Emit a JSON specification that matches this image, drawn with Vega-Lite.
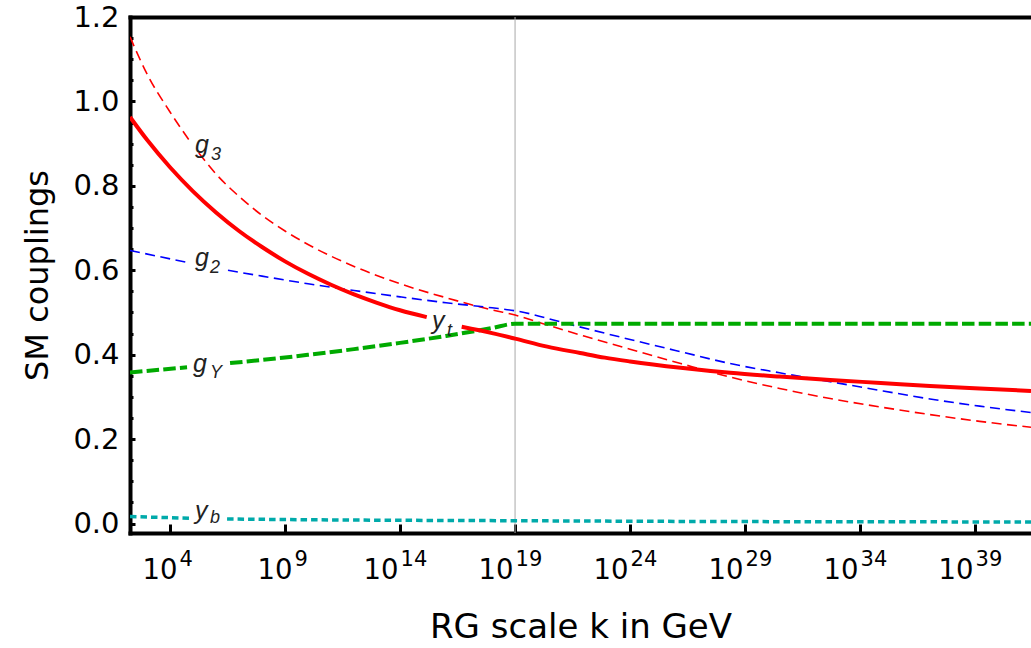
{
  "$schema": "https://vega.github.io/schema/vega-lite/v6.json",
  "width": 901,
  "height": 516,
  "autosize": "none",
  "padding": {"left": 130, "top": 17, "right": 0, "bottom": 115},
  "background": "white",
  "config": {"view": {"stroke": null}},
  "datasets": {
    "curves": [
      {"curve": "g3", "seg": "g3a", "logk": 2.26, "value": 1.153},
      {"curve": "g3", "seg": "g3a", "logk": 3, "value": 1.065},
      {"curve": "g3", "seg": "g3a", "logk": 4, "value": 0.975},
      {"curve": "g3", "seg": "g3a", "logk": 4.9, "value": 0.903},
      {"curve": "g3", "seg": "g3b", "logk": 5.25, "value": 0.878},
      {"curve": "g3", "seg": "g3b", "logk": 6, "value": 0.828},
      {"curve": "g3", "seg": "g3b", "logk": 7, "value": 0.775},
      {"curve": "g3", "seg": "g3b", "logk": 8, "value": 0.730},
      {"curve": "g3", "seg": "g3b", "logk": 9, "value": 0.693},
      {"curve": "g3", "seg": "g3b", "logk": 10, "value": 0.661},
      {"curve": "g3", "seg": "g3b", "logk": 12, "value": 0.609},
      {"curve": "g3", "seg": "g3b", "logk": 14, "value": 0.568},
      {"curve": "g3", "seg": "g3b", "logk": 16, "value": 0.535},
      {"curve": "g3", "seg": "g3b", "logk": 18, "value": 0.506},
      {"curve": "g3", "seg": "g3b", "logk": 19, "value": 0.494},
      {"curve": "g3", "seg": "g3b", "logk": 20, "value": 0.477},
      {"curve": "g3", "seg": "g3b", "logk": 22, "value": 0.444},
      {"curve": "g3", "seg": "g3b", "logk": 24, "value": 0.413},
      {"curve": "g3", "seg": "g3b", "logk": 26.2, "value": 0.379},
      {"curve": "g3", "seg": "g3b", "logk": 28.35, "value": 0.347},
      {"curve": "g3", "seg": "g3b", "logk": 30.5, "value": 0.320},
      {"curve": "g3", "seg": "g3b", "logk": 32.7, "value": 0.296},
      {"curve": "g3", "seg": "g3b", "logk": 35, "value": 0.275},
      {"curve": "g3", "seg": "g3b", "logk": 37.04, "value": 0.258},
      {"curve": "g3", "seg": "g3b", "logk": 39.2, "value": 0.242},
      {"curve": "g3", "seg": "g3b", "logk": 41.43, "value": 0.228},

      {"curve": "g2", "seg": "g2a", "logk": 2.26, "value": 0.647},
      {"curve": "g2", "seg": "g2a", "logk": 4.78, "value": 0.618},
      {"curve": "g2", "seg": "g2b", "logk": 6.52, "value": 0.600},
      {"curve": "g2", "seg": "g2b", "logk": 8, "value": 0.586},
      {"curve": "g2", "seg": "g2b", "logk": 10, "value": 0.568},
      {"curve": "g2", "seg": "g2b", "logk": 12, "value": 0.552},
      {"curve": "g2", "seg": "g2b", "logk": 14, "value": 0.537},
      {"curve": "g2", "seg": "g2b", "logk": 16, "value": 0.523},
      {"curve": "g2", "seg": "g2b", "logk": 18, "value": 0.511},
      {"curve": "g2", "seg": "g2b", "logk": 19, "value": 0.504},
      {"curve": "g2", "seg": "g2b", "logk": 21.5, "value": 0.470},
      {"curve": "g2", "seg": "g2b", "logk": 24, "value": 0.436},
      {"curve": "g2", "seg": "g2b", "logk": 26.2, "value": 0.407},
      {"curve": "g2", "seg": "g2b", "logk": 28.35, "value": 0.379},
      {"curve": "g2", "seg": "g2b", "logk": 30.5, "value": 0.357},
      {"curve": "g2", "seg": "g2b", "logk": 32.7, "value": 0.336},
      {"curve": "g2", "seg": "g2b", "logk": 35, "value": 0.314},
      {"curve": "g2", "seg": "g2b", "logk": 37.04, "value": 0.295},
      {"curve": "g2", "seg": "g2b", "logk": 39.2, "value": 0.278},
      {"curve": "g2", "seg": "g2b", "logk": 41.43, "value": 0.263},

      {"curve": "gY", "seg": "gYa", "logk": 2.26, "value": 0.358},
      {"curve": "gY", "seg": "gYa", "logk": 4.74, "value": 0.370},
      {"curve": "gY", "seg": "gYb", "logk": 6.61, "value": 0.380},
      {"curve": "gY", "seg": "gYb", "logk": 8.78, "value": 0.392},
      {"curve": "gY", "seg": "gYb", "logk": 10, "value": 0.3997},
      {"curve": "gY", "seg": "gYb", "logk": 12, "value": 0.4131},
      {"curve": "gY", "seg": "gYb", "logk": 14, "value": 0.4279},
      {"curve": "gY", "seg": "gYb", "logk": 16, "value": 0.4444},
      {"curve": "gY", "seg": "gYb", "logk": 18, "value": 0.4630},
      {"curve": "gY", "seg": "gYb", "logk": 19, "value": 0.4733},
      {"curve": "gY", "seg": "gYb", "logk": 24, "value": 0.4733},
      {"curve": "gY", "seg": "gYb", "logk": 41.43, "value": 0.4733},

      {"curve": "yt", "seg": "yta", "logk": 2.26, "value": 0.963},
      {"curve": "yt", "seg": "yta", "logk": 3, "value": 0.909},
      {"curve": "yt", "seg": "yta", "logk": 4, "value": 0.844},
      {"curve": "yt", "seg": "yta", "logk": 5, "value": 0.787},
      {"curve": "yt", "seg": "yta", "logk": 6, "value": 0.737},
      {"curve": "yt", "seg": "yta", "logk": 7, "value": 0.693},
      {"curve": "yt", "seg": "yta", "logk": 8, "value": 0.655},
      {"curve": "yt", "seg": "yta", "logk": 9, "value": 0.621},
      {"curve": "yt", "seg": "yta", "logk": 10, "value": 0.5915},
      {"curve": "yt", "seg": "yta", "logk": 11, "value": 0.5656},
      {"curve": "yt", "seg": "yta", "logk": 12, "value": 0.5428},
      {"curve": "yt", "seg": "yta", "logk": 13, "value": 0.5228},
      {"curve": "yt", "seg": "yta", "logk": 14, "value": 0.5052},
      {"curve": "yt", "seg": "yta", "logk": 15.16, "value": 0.489},
      {"curve": "yt", "seg": "ytb", "logk": 16.68, "value": 0.466},
      {"curve": "yt", "seg": "ytb", "logk": 18, "value": 0.451},
      {"curve": "yt", "seg": "ytb", "logk": 19, "value": 0.438},
      {"curve": "yt", "seg": "ytb", "logk": 20.4, "value": 0.419},
      {"curve": "yt", "seg": "ytb", "logk": 21.83, "value": 0.404},
      {"curve": "yt", "seg": "ytb", "logk": 22.9, "value": 0.393},
      {"curve": "yt", "seg": "ytb", "logk": 24, "value": 0.384},
      {"curve": "yt", "seg": "ytb", "logk": 26.2, "value": 0.369},
      {"curve": "yt", "seg": "ytb", "logk": 28.35, "value": 0.357},
      {"curve": "yt", "seg": "ytb", "logk": 30.5, "value": 0.348},
      {"curve": "yt", "seg": "ytb", "logk": 32.7, "value": 0.340},
      {"curve": "yt", "seg": "ytb", "logk": 34.9, "value": 0.333},
      {"curve": "yt", "seg": "ytb", "logk": 37.04, "value": 0.326},
      {"curve": "yt", "seg": "ytb", "logk": 39.2, "value": 0.320},
      {"curve": "yt", "seg": "ytb", "logk": 41.43, "value": 0.314},

      {"curve": "yb", "seg": "yba", "logk": 2.26, "value": 0.0165},
      {"curve": "yb", "seg": "yba", "logk": 4.87, "value": 0.0125},
      {"curve": "yb", "seg": "ybb", "logk": 6.48, "value": 0.0107},
      {"curve": "yb", "seg": "ybb", "logk": 11, "value": 0.0085},
      {"curve": "yb", "seg": "ybb", "logk": 19, "value": 0.0066},
      {"curve": "yb", "seg": "ybb", "logk": 26, "value": 0.005},
      {"curve": "yb", "seg": "ybb", "logk": 41.43, "value": 0.0037}
    ],
    "labels": [
      {"text": "g", "kind": "main", "logk": 5.087, "value": 0.8773},
      {"text": "3", "kind": "sub", "logk": 5.783, "value": 0.8608},
      {"text": "g", "kind": "main", "logk": 5.087, "value": 0.6098},
      {"text": "2", "kind": "sub", "logk": 5.739, "value": 0.5932},
      {"text": "g", "kind": "main", "logk": 5.0, "value": 0.3588},
      {"text": "Y", "kind": "sub", "logk": 5.739, "value": 0.3445},
      {"text": "y", "kind": "main", "logk": 15.39, "value": 0.4618},
      {"text": "t", "kind": "sub", "logk": 16.04, "value": 0.4452},
      {"text": "y", "kind": "main", "logk": 5.087, "value": 0.0107},
      {"text": "b", "kind": "sub", "logk": 5.739, "value": 0.0012}
    ]
  },
  "resolve": {"axis": {"x": "independent", "y": "independent"}},
  "layer": [
    {
      "data": {"values": [{"planck": 19}]},
      "mark": {"type": "rule", "color": "#a8a8a8", "strokeWidth": 1},
      "encoding": {
        "x": {
          "field": "planck", "type": "quantitative",
          "scale": {"domain": [2.26, 41.43], "nice": false, "zero": false},
          "axis": {
            "orient": "bottom",
            "values": [4, 9, 14, 19, 24, 29, 34, 39],
            "labelExpr": "'10'",
            "labelAlign": "right",
            "labelBaseline": "alphabetic",
            "labelOffset": {"condition": {"test": "datum.value < 10", "value": 7}, "value": -2},
            "labelPadding": 54,
            "labelFont": "DejaVu Sans",
            "labelFontSize": 27.5,
            "labelColor": "black",
            "labelOverlap": false,
            "labelFlush": false,
            "tickSize": -9,
            "tickWidth": 3,
            "tickColor": "black",
            "domainWidth": 4,
            "domainColor": "black",
            "domainCap": "square",
            "grid": false,
            "title": "RG scale k in GeV",
            "titleFont": "DejaVu Sans",
            "titleFontSize": 34,
            "titleFontWeight": "normal",
            "titleColor": "black",
            "titlePadding": 27
          }
        }
      }
    },
    {
      "data": {"name": "curves"},
      "transform": [{"filter": "datum.curve == 'g3'"}],
      "mark": {"type": "line", "color": "#ff0000", "strokeWidth": 1.6, "strokeDash": [10, 5.5], "interpolate": "monotone", "clip": true},
      "encoding": {
        "detail": {"field": "seg"},
        "x": {
          "field": "logk", "type": "quantitative",
          "scale": {"domain": [2.26, 41.43], "nice": false, "zero": false},
          "axis": {
            "orient": "bottom",
            "values": [4, 9, 14, 19, 24, 29, 34, 39],
            "labelExpr": "datum.value",
            "labelAlign": "left",
            "labelBaseline": "alphabetic",
            "labelOffset": {"condition": {"test": "datum.value < 10", "value": 9}, "value": 0},
            "labelPadding": 32,
            "labelFont": "DejaVu Sans",
            "labelFontSize": 21,
            "labelColor": "black",
            "labelOverlap": false,
            "labelFlush": false,
            "ticks": false,
            "domain": false,
            "grid": false,
            "title": null
          }
        },
        "y": {
          "field": "value", "type": "quantitative",
          "scale": {"domain": [-0.0225, 1.2], "nice": false, "zero": false},
          "axis": {
            "orient": "left",
            "values": [0, 0.2, 0.4, 0.6, 0.8, 1.0, 1.2],
            "format": ".1f",
            "labelFont": "DejaVu Sans",
            "labelFontSize": 29,
            "labelColor": "black",
            "labelPadding": 16,
            "labelOverlap": false,
            "labelFlush": false,
            "tickSize": -5,
            "tickWidth": 3,
            "tickColor": "black",
            "domainWidth": 4,
            "domainColor": "black",
            "domainCap": "square",
            "grid": false,
            "title": "SM couplings",
            "titleFont": "DejaVu Sans",
            "titleFontSize": 32,
            "titleFontWeight": "normal",
            "titleColor": "black",
            "titlePadding": 18
          }
        }
      }
    },
    {
      "data": {"name": "curves"},
      "transform": [{"filter": "datum.curve == 'g2'"}],
      "mark": {"type": "line", "color": "#0000ff", "strokeWidth": 1.6, "strokeDash": [10, 5.5], "interpolate": "monotone", "clip": true},
      "encoding": {
        "detail": {"field": "seg"},
        "x": {
          "field": "logk", "type": "quantitative",
          "axis": {"orient": "top", "labels": false, "ticks": false, "grid": false, "domain": true, "domainWidth": 4, "domainColor": "black", "domainCap": "square", "title": null}
        },
        "y": {
          "field": "value", "type": "quantitative",
          "axis": {
            "orient": "left",
            "values": [0.05, 0.1, 0.15, 0.25, 0.3, 0.35, 0.45, 0.5, 0.55, 0.65, 0.7, 0.75, 0.85, 0.9, 0.95, 1.05, 1.1, 1.15],
            "labels": false, "domain": false, "grid": false,
            "tickSize": -3, "tickWidth": 3, "tickColor": "black",
            "title": null
          }
        }
      }
    },
    {
      "data": {"name": "curves"},
      "transform": [{"filter": "datum.curve == 'gY'"}],
      "mark": {"type": "line", "color": "#00aa00", "strokeWidth": 4, "strokeDash": [12.5, 4.2], "interpolate": "monotone", "clip": true},
      "encoding": {
        "detail": {"field": "seg"},
        "x": {"field": "logk", "type": "quantitative", "axis": null},
        "y": {"field": "value", "type": "quantitative", "axis": null}
      }
    },
    {
      "data": {"name": "curves"},
      "transform": [{"filter": "datum.curve == 'yt'"}],
      "mark": {"type": "line", "color": "#ff0000", "strokeWidth": 4, "interpolate": "monotone", "clip": true},
      "encoding": {
        "detail": {"field": "seg"},
        "x": {"field": "logk", "type": "quantitative", "axis": null},
        "y": {"field": "value", "type": "quantitative", "axis": null}
      }
    },
    {
      "data": {"name": "curves"},
      "transform": [{"filter": "datum.curve == 'yb'"}],
      "mark": {"type": "line", "color": "#00aaaa", "strokeWidth": 3.5, "strokeDash": [6.5, 4], "interpolate": "monotone", "clip": true},
      "encoding": {
        "detail": {"field": "seg"},
        "x": {"field": "logk", "type": "quantitative", "axis": null},
        "y": {"field": "value", "type": "quantitative", "axis": null}
      }
    },
    {
      "data": {"name": "labels"},
      "transform": [{"filter": "datum.kind == 'main'"}],
      "mark": {"type": "text", "align": "left", "baseline": "alphabetic", "font": "Liberation Sans", "fontStyle": "italic", "fontSize": 25, "color": "#222222"},
      "encoding": {
        "x": {"field": "logk", "type": "quantitative", "axis": null},
        "y": {"field": "value", "type": "quantitative", "axis": null},
        "text": {"field": "text"}
      }
    },
    {
      "data": {"name": "labels"},
      "transform": [{"filter": "datum.kind == 'sub'"}],
      "mark": {"type": "text", "align": "left", "baseline": "alphabetic", "font": "Liberation Sans", "fontStyle": "italic", "fontSize": 18, "color": "#222222"},
      "encoding": {
        "x": {"field": "logk", "type": "quantitative", "axis": null},
        "y": {"field": "value", "type": "quantitative", "axis": null},
        "text": {"field": "text"}
      }
    }
  ]
}
